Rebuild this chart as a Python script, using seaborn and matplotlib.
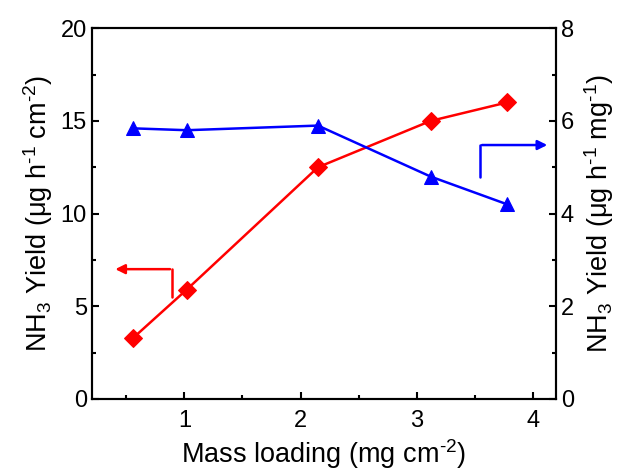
import numpy as np
import pandas as pd
import matplotlib
matplotlib.use("Agg")
import matplotlib.pyplot as plt
from matplotlib.ticker import MultipleLocator
import seaborn as sns

# 数据
mass_loading = [0.56, 1.02, 2.15, 3.12, 3.78]
yield_area = [3.3, 5.9, 12.5, 15.0, 16.0]
yield_mass = [5.84, 5.80, 5.90, 4.80, 4.20]

sns.set_style("ticks")
plt.rcParams['font.family'] = ['Liberation Sans', 'DejaVu Sans']
plt.rcParams['mathtext.fontset'] = 'custom'
plt.rcParams['mathtext.rm'] = 'Liberation Sans'
plt.rcParams['mathtext.it'] = 'Liberation Sans'
for k in ['text.color', 'axes.labelcolor', 'xtick.color', 'ytick.color', 'axes.edgecolor']:
    plt.rcParams[k] = 'black'

data = pd.DataFrame({'x': mass_loading, 'area': yield_area, 'mass': yield_mass})

fig, ax = plt.subplots(figsize=(6.19, 4.72), dpi=100)
ax2 = ax.twinx()

sns.lineplot(data=data, x='x', y='area', ax=ax, color='#ff0000', marker='D',
             markersize=9, markeredgecolor='#ff0000', linewidth=1.8)
sns.lineplot(data=data, x='x', y='mass', ax=ax2, color='#0000ff', marker='^',
             markersize=10, markeredgecolor='#0000ff', linewidth=1.8)

ax.set_xlim(0.2, 4.2)
ax.set_ylim(0, 20)
ax2.set_ylim(0, 8)

ax.xaxis.set_major_locator(MultipleLocator(1))
ax.xaxis.set_minor_locator(MultipleLocator(0.5))
ax.yaxis.set_major_locator(MultipleLocator(5))
ax.yaxis.set_minor_locator(MultipleLocator(2.5))
ax2.yaxis.set_major_locator(MultipleLocator(2))
ax2.yaxis.set_minor_locator(MultipleLocator(1))

for a in (ax, ax2):
    a.tick_params(which='major', direction='in', length=5, width=1.5, labelsize=17)
    a.tick_params(which='minor', direction='in', length=3, width=1.5)
    for s in a.spines.values():
        s.set_linewidth(1.5)
        s.set_visible(True)
ax.tick_params(axis='x', pad=8)

ax.set_xlabel(r'Mass loading (mg cm$^{\text{-}2}$)', fontsize=19.5, labelpad=4)
ax.set_ylabel(r'NH$_3$ Yield (μg h$^{\text{-}1}$ cm$^{\text{-}2}$)', fontsize=19.5, labelpad=4)
ax2.set_ylabel(r'NH$_3$ Yield (μg h$^{\text{-}1}$ mg$^{\text{-}1}$)', fontsize=19.5, labelpad=6)

# 指示箭头
ax.plot([0.89, 0.89], [5.5, 7.0], color='#ff0000', lw=1.8)
ax.annotate('', xy=(0.38, 7.0), xytext=(0.90, 7.0),
            arrowprops=dict(arrowstyle='-|>', color='#ff0000', lw=1.8, mutation_scale=14))
ax.plot([3.55, 3.55], [12.0, 13.7], color='#0000ff', lw=1.8)
ax.annotate('', xy=(4.15, 13.7), xytext=(3.54, 13.7),
            arrowprops=dict(arrowstyle='-|>', color='#0000ff', lw=1.8, mutation_scale=14))

plt.subplots_adjust(left=0.148, right=0.898, top=0.94, bottom=0.155)
plt.savefig('out.png', dpi=100)
